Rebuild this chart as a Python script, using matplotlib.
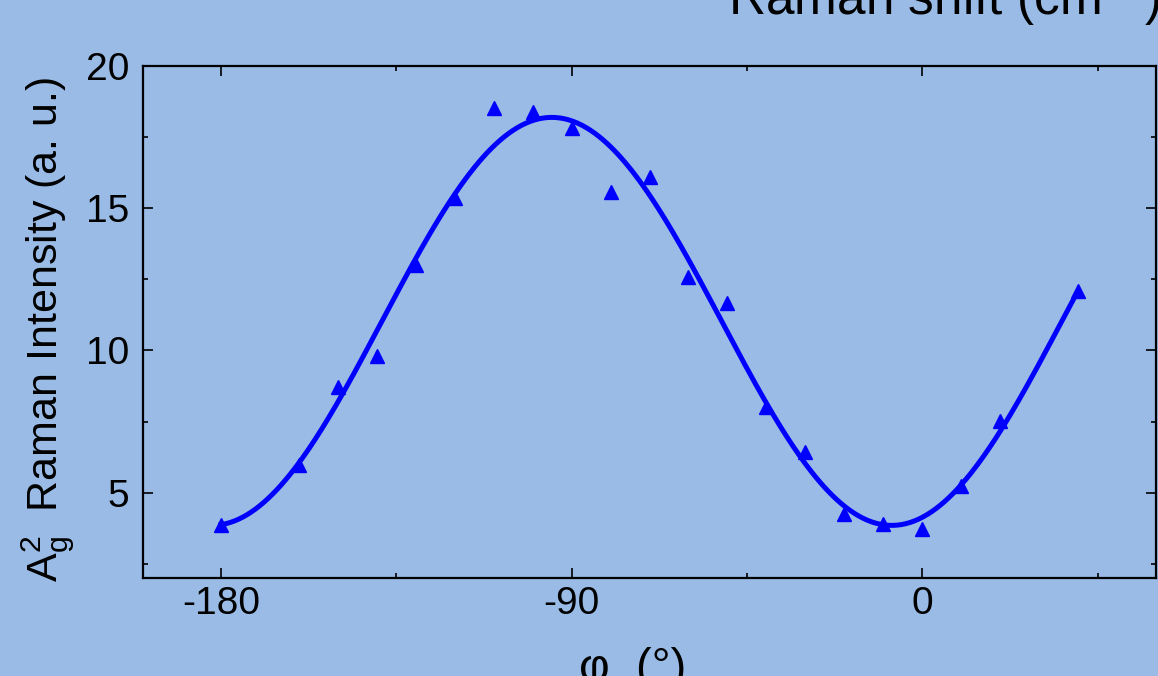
import numpy as np
import matplotlib
matplotlib.use("Agg")
import matplotlib.pyplot as plt

# polarization angle (deg) and A_g^2 Raman intensity (a. u.)
phi = [-180, -160, -150, -140, -130, -120, -110, -100, -90, -80, -70,
       -60, -50, -40, -30, -20, -10, 0, 10, 20, 40]
intensity = [3.85, 5.96, 8.71, 9.80, 13.02, 15.36, 18.54, 18.37, 17.83, 15.58, 16.11,
             12.58, 11.68, 8.00, 6.43, 4.26, 3.91, 3.71, 5.23, 7.53, 12.09]

xticks = [-180, -90, 0]
yticks = [5, 10, 15, 20]

plt.rcParams['font.family'] = ['Liberation Sans', 'DejaVu Sans']
plt.rcParams['mathtext.fontset'] = 'custom'
plt.rcParams['mathtext.rm'] = 'Liberation Sans'
plt.rcParams['mathtext.it'] = 'Liberation Sans'
plt.rcParams['axes.unicode_minus'] = False

bg = '#99bbe5'
fig = plt.figure(figsize=(11.58, 6.76), dpi=100, facecolor=bg)
ax = fig.add_axes([143/1158, 1-578/676, (1156-143)/1158, (578-66)/676])
ax.set_facecolor(bg)

# sine fit with free period: y = y0 + a cos(2 pi x / w) + b sin(2 pi x / w)
xd = np.array(phi, dtype=float)
yd = np.array(intensity)
best = None
for w in np.arange(150, 210, 0.25):
    A = np.column_stack([np.ones_like(xd), np.cos(2*np.pi*xd/w), np.sin(2*np.pi*xd/w)])
    c, *_ = np.linalg.lstsq(A, yd, rcond=None)
    r = np.sum((A @ c - yd)**2)
    if best is None or r < best[0]:
        best = (r, w, c)
_, w, c = best
xf = np.linspace(min(phi), max(phi), 400)
yf = c[0] + c[1]*np.cos(2*np.pi*xf/w) + c[2]*np.sin(2*np.pi*xf/w)

ax.plot(xf, yf, color='#0000ff', lw=3.6, zorder=2)
ax.plot(phi, intensity, ls='none', marker='^', ms=10, color='#0000ff', zorder=3)

ax.set_xlim(-200, 60)
ax.set_ylim(2, 20)
ax.set_xticks(xticks)
ax.set_xticks([-135, -45, 45], minor=True)
ax.set_yticks(yticks)
ax.set_yticks([2.5, 7.5, 12.5, 17.5], minor=True)

for s in ax.spines.values():
    s.set_linewidth(1.6)
ax.tick_params(which='both', direction='in', top=True, right=True, width=1.2, colors='black')
ax.tick_params(which='major', length=7.5)
ax.tick_params(which='minor', length=3.8)
ax.tick_params(axis='x', labelsize=28, pad=6)
ax.tick_params(axis='y', labelsize=28, pad=10)

ax.set_ylabel(r'$\mathregular{A_g^2}$  Raman Intensity (a. u.)', fontsize=31)
ax.yaxis.set_label_coords(-0.065, 0.485)

fig.text(633/1158, -0.008, 'φ  (°)', fontsize=34, ha='center', va='baseline')
fig.text(728/1158, 0.978, r'Raman shift (cm$^{-1}$)', fontsize=37, ha='left', va='baseline')

fig.savefig('out.png', dpi=100, facecolor=bg)
